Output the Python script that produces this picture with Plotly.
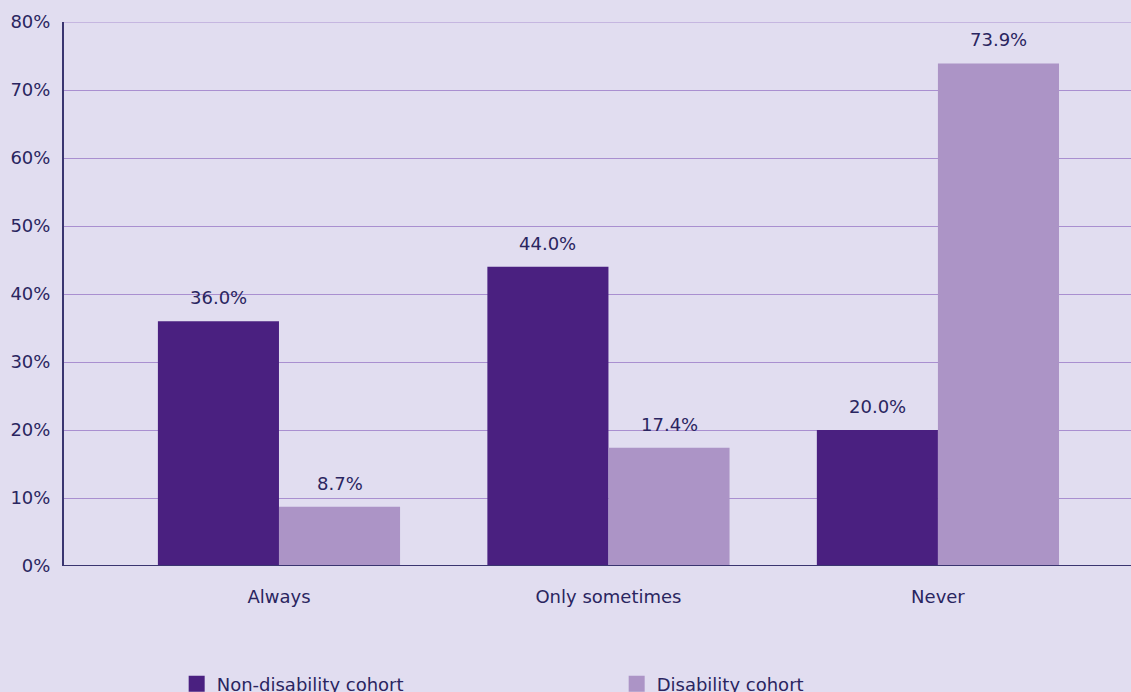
import plotly.graph_objects as go

categories = ["Always", "Only sometimes", "Never"]
non_disability = [36.0, 44.0, 20.0]
disability = [8.7, 17.4, 73.9]
y_ticks = [0, 10, 20, 30, 40, 50, 60, 70, 80]
y_tick_labels = [f"{v}%" for v in y_ticks]

DARK = "#4A2080"
LIGHT = "#AC94C6"
BG = "#E1DDF0"
TEXT = "#2A2560"
GRID = "#A98FD0"
AXIS = "#3A3570"
FONT = "DejaVu Sans"

BARGAP = 0.265
x_pos = list(range(len(categories)))
bar_w = (1 - BARGAP) / 2

fig = go.Figure()
fig.add_trace(go.Bar(
    x=x_pos, y=non_disability, name="Non-disability cohort",
    marker=dict(color=DARK, line=dict(width=0)), showlegend=False,
))
fig.add_trace(go.Bar(
    x=x_pos, y=disability, name="Disability cohort",
    marker=dict(color=LIGHT, line=dict(width=0)), showlegend=False,
))
# legend entries with larger square swatches
for name, color in [("Non-disability cohort", DARK), ("Disability cohort", LIGHT)]:
    fig.add_trace(go.Scatter(
        x=[None], y=[None], mode="markers", name=name,
        marker=dict(symbol="square", size=20, color=color, line=dict(width=0)),
    ))

# value labels above each bar
for offset, values in [(-bar_w / 2, non_disability), (bar_w / 2, disability)]:
    for i, v in enumerate(values):
        fig.add_annotation(
            x=i + offset, y=v, xref="x", yref="y", text=f"{v:.1f}%",
            showarrow=False, yanchor="bottom", yshift=11,
            font=dict(size=18, color=TEXT, family=FONT),
        )

fig.update_layout(
    width=1131, height=692,
    paper_bgcolor=BG, plot_bgcolor=BG,
    margin=dict(l=64, r=0, t=22, b=126, autoexpand=False),
    barmode="group", bargap=BARGAP, bargroupgap=0,
    font=dict(family=FONT, color=TEXT, size=18),
    legend=dict(
        orientation="h", x=0.1056, xanchor="left", y=-0.217, yanchor="middle",
        entrywidth=395, entrywidthmode="pixels", itemsizing="trace",
        font=dict(size=18, color=TEXT, family=FONT), bgcolor="rgba(0,0,0,0)",
    ),
    xaxis=dict(
        range=[-0.6525, 2.586], tickmode="array", tickvals=x_pos, ticktext=categories,
        showgrid=False, zeroline=False, showline=False, ticks="",
        ticklabelstandoff=18, tickfont=dict(size=18, color=TEXT),
    ),
    yaxis=dict(
        range=[0, 80], tickmode="array", tickvals=y_ticks, ticktext=y_tick_labels,
        showgrid=True, gridcolor=GRID, gridwidth=1, zeroline=False,
        showline=True, linecolor=AXIS, linewidth=2, ticks="",
        ticklabelstandoff=8, tickfont=dict(size=18, color=TEXT),
    ),
)
# top gridline at the upper end of the range
fig.add_shape(type="line", xref="paper", yref="y", x0=0, x1=1, y0=y_ticks[-1], y1=y_ticks[-1],
              line=dict(color=GRID, width=1), layer="below")
# baseline along 0%
fig.add_shape(type="line", xref="paper", yref="y", x0=0, x1=1, y0=0, y1=0,
              line=dict(color=AXIS, width=2), layer="above")

fig.write_html("out.html")
